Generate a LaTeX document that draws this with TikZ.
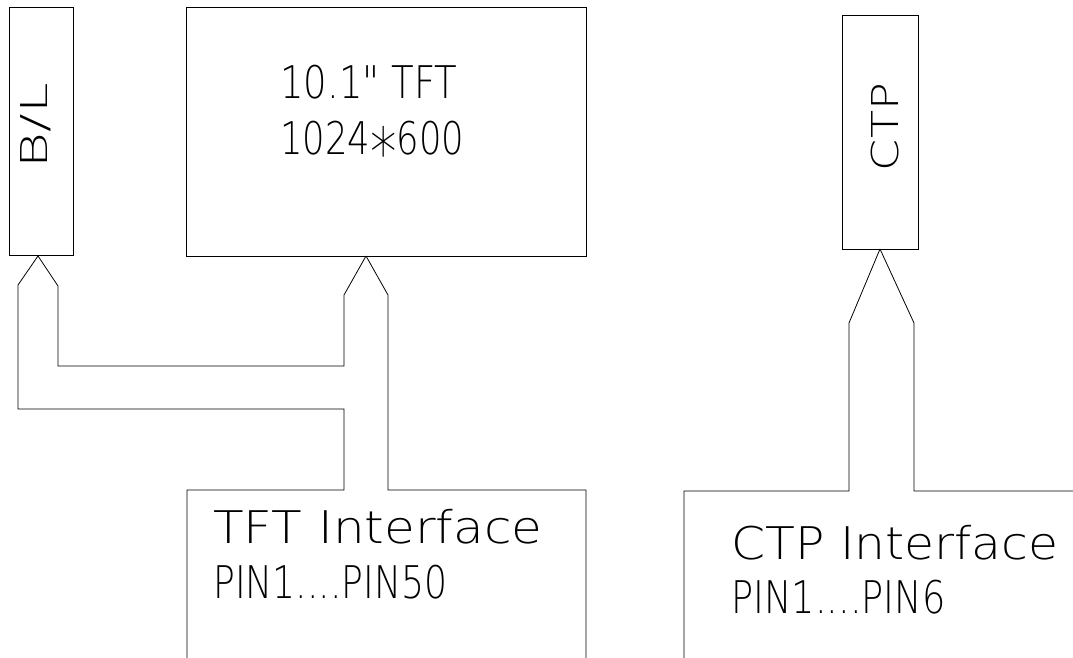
\documentclass[tikz,border=0pt]{standalone}
\usepackage{graphicx}
\usepackage{fontspec}
\newfontfamily\cad{DejaVu Sans ExtraLight}
\newcommand{\fitw}[2]{\resizebox{#1}{\height}{#2}}
\begin{document}
\begin{tikzpicture}[x=1pt,y=-1pt,line width=0.8pt,
  box/.style={draw,rectangle,inner sep=0pt,outer sep=0pt},
  bigtxt/.style={inner sep=0pt,anchor=base west,font=\cad\fontsize{45}{54}\selectfont},
  vtxt/.style={inner sep=0pt,anchor=base,rotate=90,font=\cad\fontsize{37}{44}\selectfont},
  wire/.style={line join=miter}]
\useasboundingbox (0,0) rectangle (1073,658);
% boxes
\node[box,minimum width=64pt,minimum height=248pt] (bl) at (41,131) {};
\node[box,minimum width=400pt,minimum height=249pt] (tft) at (386,131.5) {};
\node[box,minimum width=76pt,minimum height=234pt] (ctp) at (880,132) {};
% texts
\node[vtxt] (bltxt) at (48,125.5) {\fitw{85pt}{B/L}};
\node[vtxt] (ctptxt) at (898,127) {\fitw{88pt}{CTP}};
\node[bigtxt] (t1) at (280,99) {\fitw{177pt}{10.1" TFT}};
\node[bigtxt] (t2) at (280,154) {\fitw{184pt}{1024\raisebox{-0.5em}{\scalebox{1.5}{*}}600}};
\node[bigtxt] (t3) at (213,543) {\fitw{329pt}{TFT Interface}};
\node[bigtxt] (t4) at (213,598) {\fitw{234pt}{PIN1....PIN50}};
\node[bigtxt] (t5) at (731,559) {\fitw{327pt}{CTP Interface}};
\node[bigtxt] (t6) at (731,613) {\fitw{214pt}{PIN1....PIN6}};
% coordinates
\coordinate (blA) at (38,256);
\coordinate (tftA) at (366,256);
\coordinate (ctpA) at (880,249);
\coordinate (tiL) at (187,658);
\coordinate (tiR) at (586,658);
\coordinate (ciL) at (684,658);
\coordinate (ciR) at (1073,491);
% B/L connectors
\draw[wire] (blA) -- (18,285) -- (18,409) -- (344,409) -- (344,490) -- (187,490) -- (tiL);
\draw[wire] (blA) -- (58,286) -- (58,366) -- (344,366) -- (344,295) -- (tftA);
\draw[wire] (tftA) -- (388,295) -- (388,490) -- (586,490) -- (tiR);
% CTP connectors
\draw[wire] (ctpA) -- (849,323) -- (849,491) -- (684,491) -- (ciL);
\draw[wire] (ctpA) -- (914,323) -- (914,491) -- (ciR);
\end{tikzpicture}
\end{document}
